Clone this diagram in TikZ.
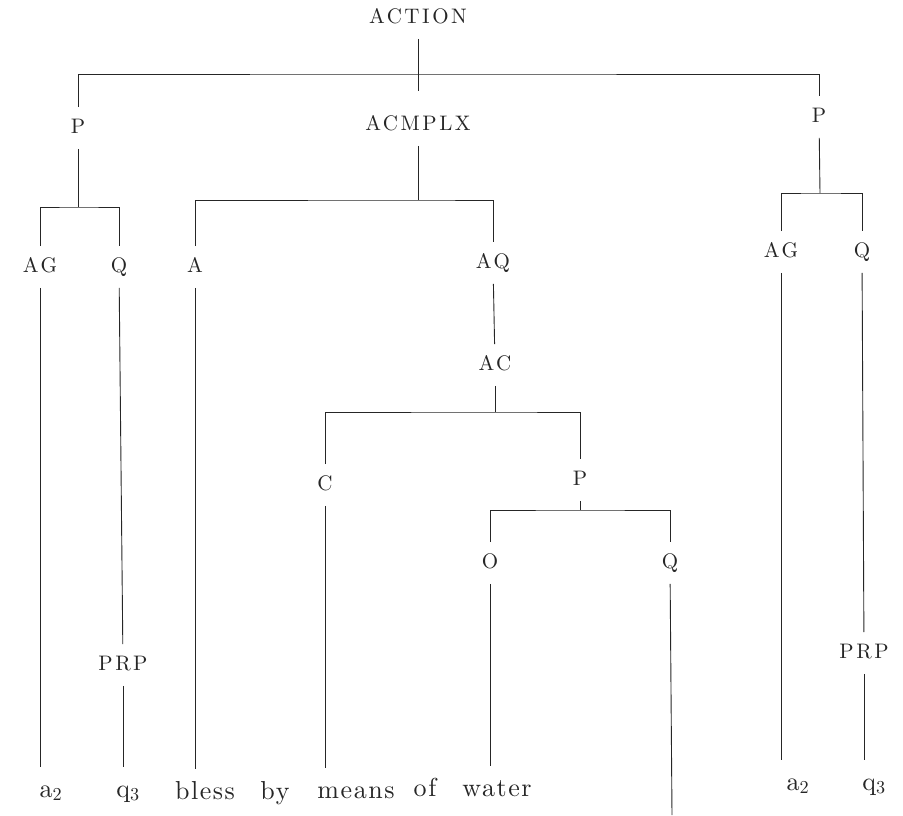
\documentclass[tikz,border=0pt]{standalone}
\usepackage{fontspec}
\newfontfamily\catfont{lmroman10-regular.otf}[LetterSpace=12]
\newfontfamily\wordfont{lmroman10-regular.otf}[LetterSpace=6]
\begin{document}
\begin{tikzpicture}
[x=1pt,y=-1pt,line width=0.9pt,draw=black!85,
 cat/.style={font=\catfont\fontsize{21}{21}\selectfont,text=black!85,
   text height=14pt,text depth=3pt,inner xsep=1pt,inner ysep=12pt},
 word/.style={anchor=base,font=\wordfont\fontsize{26}{26}\selectfont,text=black!85,
   text height=18pt,text depth=5pt,inner xsep=1pt,inner ysep=12pt},]

\useasboundingbox (0,0) rectangle (903,815);

%Top level
\node (act) at (418,18) [cat] {ACTION};
\node (pl) at (78,128) [cat] {P};
\node (acx) at (418,125) [cat] {ACMPLX};
\node (pr) at (819,117) [cat] {P};

%Second level
\node (ag1) at (40,267) [cat] {AG};
\node (q1) at (119,267) [cat] {Q};
\node (a1) at (195,267) [cat] {A};
\node (aq1) at (493,263) [cat] {AQ};
\node (ag2) at (781,252) [cat] {AG};
\node (q2) at (862,252) [cat] {Q};

%Inside AQ
\node (ac1) at (495,365) [cat] {AC};
\node (c1) at (325,485) [cat] {C};
\node (pm) at (580,480) [cat] {P};
\node (o1) at (490,563) [cat] {O};
\node (q3) at (670,563) [cat] {Q};

\node (prp1) at (123,665) [cat] {PRP};
\node (prp2) at (864,653) [cat] {PRP};

%Bottom words
\node (a2l) at (51,797) [word] {a\textsubscript{2}};
\node (q3l) at (128,797) [word] {q\textsubscript{3}};
\node (bless) at (205,799) [word] {bless};
\node (by) at (275,799) [word] {by};
\node (means) at (356,798) [word] {means};
\node (of) at (425,796) [word] {of};
\node (water) at (497,796) [word] {water};
\node (a2r) at (798,790) [word] {a\textsubscript{2}};
\node (q3r) at (874,790) [word] {q\textsubscript{3}};

%Bars
\coordinate (cross) at (418,91);
\coordinate (tbar) at (418,74);
\coordinate (bl) at (78,207);
\coordinate (bm) at (418,200);
\coordinate (br) at (820,193);
\coordinate (bac) at (495,412);
\coordinate (bp) at (580,510);
\coordinate (qend) at (672,815);

\draw (act) -- (cross);
\draw (pl) |- (tbar) -| (pr);
\draw (pl) -- (bl);
\draw (ag1) |- (bl) -| (q1);
\draw (acx) -- (bm);
\draw (a1) |- (bm) -| (aq1);
\draw (pr) -- (br);
\draw (ag2) |- (br) -| (q2);
\draw (aq1) -- (ac1);
\draw (ac1) -- (bac);
\draw (c1) |- (bac) -| (pm);
\draw (pm) -- (bp);
\draw (o1) |- (bp) -| (q3);

%Down to the words
\draw (ag1) -- (ag1 |- a2l.north);
\draw (q1) -- (prp1);
\draw (prp1) -- (prp1 |- q3l.north);
\draw (a1) -- (a1 |- bless.north);
\draw (c1) -- (c1 |- means.north);
\draw (o1) -- (o1 |- water.north);
\draw (q3) -- (qend);
\draw (ag2) -- (ag2 |- a2r.north);
\draw (q2) -- (prp2);
\draw (prp2) -- (prp2 |- q3r.north);

\end{tikzpicture}
\end{document}
